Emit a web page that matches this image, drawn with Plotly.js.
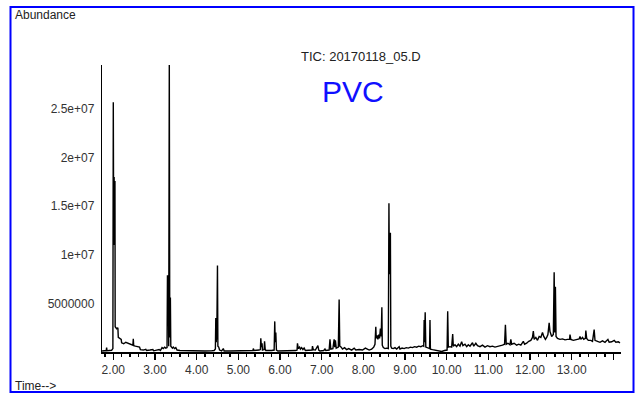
<!DOCTYPE html>
<html>
<head>
<meta charset="utf-8">
<script src="https://cdn.plot.ly/plotly-3.0.1.min.js"></script>
<style>html,body{margin:0;padding:0;background:#fff;}#chart{width:639px;height:394px;}</style>
</head>
<body>
<div id="chart"></div>
<script>
// Retention time (min)
const retentionTime = [
1.73,1.78,1.83,1.84,1.85,1.90,1.96,1.99,2.00,2.01,2.02,2.03,2.04,2.045,2.08,2.11,2.12,2.16,2.19,2.20,
2.25,2.30,2.35,2.40,2.44,2.47,2.48,2.49,2.53,2.58,2.63,2.65,2.72,2.78,2.80,2.88,2.95,2.97,3.05,3.10,
3.13,3.17,3.20,3.23,3.26,3.29,3.30,3.31,3.32,3.33,3.344,3.355,3.36,3.37,3.38,3.40,3.42,3.44,3.47,3.50,
3.53,3.60,3.75,3.90,4.05,4.20,4.35,4.42,4.45,4.46,4.47,4.485,4.50,4.51,4.53,4.55,4.60,4.64,4.66,4.80,
5.00,5.20,5.35,5.36,5.38,5.50,5.53,5.54,5.555,5.57,5.58,5.62,5.63,5.645,5.66,5.80,5.86,5.875,5.885,5.90,
5.915,5.95,6.10,6.25,6.38,6.41,6.42,6.44,6.47,6.49,6.52,6.55,6.58,6.61,6.70,6.77,6.78,6.80,6.85,6.91,
6.93,6.96,7.05,7.08,7.10,7.18,7.20,7.22,7.27,7.30,7.315,7.33,7.35,7.40,7.42,7.435,7.47,7.50,7.55,7.60,
7.65,7.72,7.78,7.82,7.90,7.98,8.05,8.10,8.14,8.20,8.25,8.28,8.30,8.31,8.33,8.35,8.37,8.39,8.41,8.43,
8.445,8.455,8.48,8.52,8.56,8.60,8.615,8.625,8.635,8.65,8.66,8.68,8.72,8.76,8.80,8.86,8.88,8.93,8.98,9.03,
9.08,9.13,9.18,9.23,9.28,9.33,9.38,9.43,9.45,9.46,9.47,9.485,9.50,9.55,9.59,9.60,9.61,9.66,9.72,9.80,
9.88,9.95,10.01,10.025,10.04,10.08,10.12,10.145,10.16,10.20,10.24,10.28,10.32,10.36,10.39,10.44,10.48,10.52,10.56,10.62,
10.65,10.70,10.74,10.80,10.86,10.92,10.98,11.04,11.10,11.16,11.22,11.28,11.34,11.39,11.41,11.43,11.47,11.52,11.54,11.56,
11.62,11.68,11.73,11.78,11.84,11.87,11.92,11.97,12.02,12.06,12.08,12.10,12.14,12.18,12.22,12.26,12.30,12.33,12.37,12.40,
12.43,12.46,12.48,12.52,12.56,12.58,12.595,12.61,12.625,12.66,12.72,12.78,12.84,12.90,12.95,12.96,12.98,13.04,13.10,13.18,
13.20,13.22,13.26,13.29,13.33,13.34,13.36,13.40,13.46,13.50,13.54,13.56,13.62,13.68,13.74,13.80,13.87,13.90,13.96,14.02,
14.06,14.12,14.16
];
// Abundance (counts)
const abundance = [
1.0e5,1.2e5,1.5e5,4.5e5,1.2e5,1.5e5,1.8e5,3.5e5,2.57e7,1.1e7,1.8e7,1.2e7,1.76e7,2.6e6,2.4e6,2.5e6,1.5e6,1.4e6,1.3e6,9.5e5,
8.5e5,1.0e6,9.0e5,8.5e5,7.5e5,7.0e5,1.35e6,6.5e5,6.0e5,5.5e5,5.0e5,2.5e5,2.0e5,2.8e5,1.5e5,2.0e5,2.5e5,1.2e5,1.8e5,2.5e5,
1.5e5,4.5e5,3.5e5,5.0e5,4.0e5,4.5e5,7.9e6,4.0e6,7.6e6,6.0e5,2.98e7,1.5e6,5.7e6,5.6e6,6.0e5,5.0e5,4.0e5,5.0e5,3.5e5,4.5e5,
2.0e5,1.5e5,1.2e5,1.0e5,1.2e5,1.0e5,1.2e5,1.5e5,3.0e5,3.5e6,1.0e6,2.0e6,8.9e6,6.0e5,5.0e5,2.0e5,1.2e5,3.5e5,1.0e5,1.0e5,
1.2e5,1.0e5,1.5e5,3.5e5,1.5e5,2.0e5,2.5e5,1.4e6,5.0e5,9.0e5,2.0e5,2.5e5,1.1e6,3.0e5,1.5e5,1.5e5,2.0e5,3.15e6,1.0e6,2.0e6,
2.0e5,1.0e5,1.2e5,1.0e5,1.5e5,2.0e5,9.0e5,3.5e5,5.0e5,3.0e5,4.5e5,2.5e5,4.0e5,1.5e5,1.5e5,2.0e5,6.0e5,2.5e5,2.0e5,6.5e5,
2.0e5,1.0e5,1.5e5,3.0e5,1.5e5,2.0e5,1.3e6,3.0e5,3.5e5,1.3e6,5.0e5,1.2e6,4.0e5,5.0e5,5.4e6,6.0e5,5.0e5,3.0e5,4.5e5,2.5e5,
3.5e5,2.0e5,4.0e5,2.0e5,2.5e5,2.0e5,4.0e5,3.0e5,2.0e5,3.0e5,5.0e5,8.0e5,2.6e6,1.4e6,1.7e6,1.3e6,1.8e6,1.4e6,2.4e6,1.6e6,
4.6e6,7.0e5,4.5e5,3.5e5,4.0e5,3.5e5,1.53e7,8.0e6,1.22e7,1.22e7,6.0e5,4.0e5,3.5e5,4.5e5,3.0e5,5.5e5,3.0e5,4.0e5,3.5e5,4.5e5,
4.0e5,5.0e5,4.5e5,5.5e5,5.0e5,6.0e5,5.5e5,6.5e5,6.0e5,3.3e6,1.0e6,4.1e6,5.0e5,4.0e5,3.5e5,3.3e6,3.0e5,2.5e5,2.0e5,1.0e5,
5.0e4,1.5e5,2.0e5,4.2e6,5.0e5,5.5e5,5.0e5,1.85e6,6.0e5,7.5e5,5.5e5,8.0e5,6.0e5,1.05e6,6.5e5,8.0e5,5.5e5,7.5e5,6.0e5,9.5e5,
6.0e5,9.0e5,6.5e5,5.5e5,7.0e5,5.0e5,6.5e5,5.5e5,6.0e5,5.0e5,5.5e5,6.0e5,7.0e5,8.0e5,2.8e6,8.0e5,9.0e5,7.5e5,1.3e6,8.0e5,
9.0e5,7.0e5,8.0e5,7.0e5,1.1e6,8.0e5,9.0e5,1.1e6,1.2e6,1.5e6,2.15e6,1.3e6,1.5e6,1.2e6,1.6e6,1.5e6,2.0e6,1.6e6,1.3e6,1.5e6,
1.8e6,3.0e6,2.1e6,1.6e6,1.8e6,8.2e6,2.0e6,6.7e6,1.6e6,1.4e6,1.3e6,1.35e6,1.25e6,1.3e6,1.3e6,1.8e6,1.3e6,1.2e6,1.3e6,1.35e6,
1.6e6,1.3e6,1.5e6,1.3e6,1.4e6,2.2e6,1.4e6,1.2e6,1.2e6,1.1e6,2.3e6,1.2e6,1.1e6,1.0e6,1.15e6,1.0e6,1.3e6,1.0e6,1.05e6,1.2e6,
1.0e6,1.05e6,9.5e5
];
// Axis ticks
const xTickVals = [2,3,4,5,6,7,8,9,10,11,12,13,14];
const xTickText = ["2.00","3.00","4.00","5.00","6.00","7.00","8.00","9.00","10.00","11.00","12.00","13.00",""];
const yTickVals = [5000000,10000000,15000000,20000000,25000000];
const yTickText = ["5000000","1e+07","1.5e+07","2e+07","2.5e+07"];

const trace = {
  x: retentionTime, y: abundance, type: 'scatter', mode: 'lines',
  line: {color: '#000', width: 1.4, shape: 'linear'}, hoverinfo: 'skip'
};

const tickFont = {family: 'Liberation Sans, Arial, sans-serif', size: 12, color: '#333'};

const layout = {
  width: 639, height: 394,
  margin: {l: 102, r: 18, t: 65, b: 42, pad: 0},
  paper_bgcolor: '#fff', plot_bgcolor: '#fff',
  showlegend: false,
  xaxis: {
    range: [1.729, 14.184], showgrid: false, zeroline: false,
    showline: true, linecolor: '#000', linewidth: 1.5,
    tickmode: 'array', tickvals: xTickVals, ticktext: xTickText,
    ticks: 'outside', ticklen: 6, tickwidth: 1.2, tickcolor: '#000',
    minor: {dtick: 0.2, tick0: 0, ticks: 'outside', ticklen: 3, tickwidth: 1.2, tickcolor: '#000', showgrid: false},
    tickfont: tickFont
  },
  yaxis: {
    range: [0, 29530000], showgrid: false, zeroline: false,
    showline: true, linecolor: '#000', linewidth: 1.2,
    tickmode: 'array', tickvals: yTickVals, ticktext: yTickText,
    ticks: '', ticklabelstandoff: 4,
    tickfont: tickFont
  },
  shapes: [
    {type: 'rect', xref: 'paper', yref: 'paper', x0: -0.1763, x1: 1.0241, y0: -0.1394, y1: 1.2021,
     line: {color: '#0000ff', width: 2}, fillcolor: 'rgba(0,0,0,0)'}
  ],
  annotations: [
    {text: 'Abundance', xref: 'paper', yref: 'paper', x: -0.1715, y: 1.174, xanchor: 'left', yanchor: 'middle',
     showarrow: false, font: {family: 'Liberation Sans, Arial, sans-serif', size: 12, color: '#222'}},
    {text: 'Time-->', xref: 'paper', yref: 'paper', x: -0.1715, y: -0.120, xanchor: 'left', yanchor: 'middle',
     showarrow: false, font: {family: 'Liberation Sans, Arial, sans-serif', size: 12, color: '#222'}},
    {text: 'TIC: 20170118_05.D', xref: 'paper', yref: 'paper', x: 0.499, y: 1.028, xanchor: 'center', yanchor: 'middle',
     showarrow: false, font: {family: 'Liberation Sans, Arial, sans-serif', size: 13, color: '#222'}},
    {text: 'PVC', xref: 'paper', yref: 'paper', x: 0.484, y: 0.906, xanchor: 'center', yanchor: 'middle',
     showarrow: false, font: {family: 'Liberation Sans, Arial, sans-serif', size: 30, color: '#1010ff'}}
  ]
};

Plotly.newPlot('chart', [trace], layout, {staticPlot: true, displayModeBar: false});
</script>
</body>
</html>
